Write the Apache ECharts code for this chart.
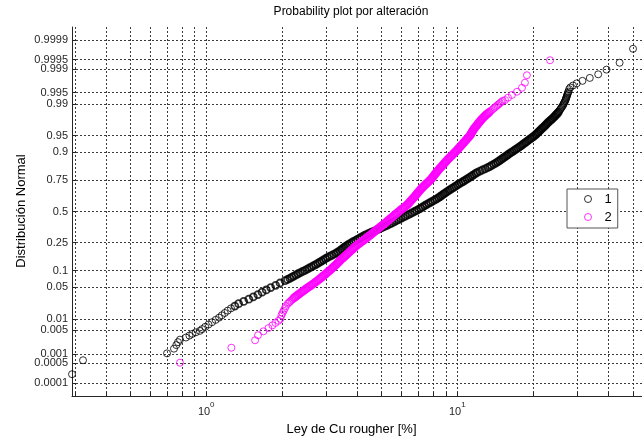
<!DOCTYPE html>
<html><head><meta charset="utf-8">
<script src="https://cdn.jsdelivr.net/npm/echarts@6/dist/echarts.min.js"></script>
<style>html,body{margin:0;padding:0;background:#fff}#c{width:642px;height:437px}</style>
</head><body><div id="c"></div>
<script>
const chartTitle = 'Probability plot por alteración';
const xName = 'Ley de Cu rougher [%]';
const yName = 'Distribución Normal';
const seriesNames = ['1', '2'];

// Series 1 (black): Cu grade [%] and plotting probability
const s1Pct = [0.292,0.323,0.698,0.744,0.760,0.772,0.786,0.830,0.857,0.881,0.909,0.943,0.963,
0.991,1.021,1.055,1.090,1.125,1.154,1.185,1.217,1.255,1.300,1.346,1.410,1.478,1.540,1.606,1.669,1.734,1.806,1.890,1.967,2.061,2.153,2.234,2.321,2.421,2.525,2.627,2.729,2.83,2.929,3.036,3.160,3.296,3.409,3.502,3.603,3.72,3.861,4.012,4.168,4.331,4.538,4.78,5.012,5.25,5.48,5.715,5.96,6.215,6.48,6.758,7.03,7.28,7.538,7.827,8.133,8.418,8.674,8.93,9.223,9.52,9.84,10.17,10.54,10.9,11.27,11.64,12.02,12.59,13.2,13.7,14.23,14.7,15.15,15.6,16.07,16.59,17.13,17.67,18.19,18.71,19.25,19.82,20.37,20.82,21.28,21.75,22.24,22.7,23.19,23.74,24.29,24.76,25.24,25.61,25.98,26.34,26.6,26.9,27.1,27.3,27.5,27.7,
27.9,28.2,28.9,29.9,31.5,33.7,36.4,39.3,44.3,50.1,
2.107,2.194,2.278,2.371,2.473,2.576,2.678,2.780,2.880,2.983,3.098,3.228,3.353,3.456,3.553,3.662,3.791,3.937,4.090,4.250,4.435,4.659,4.896,5.131,5.365,5.598,5.838,6.088,6.348,6.619,6.894,7.155,7.409,7.683,7.980,8.276,8.546,8.802,9.077,9.372,9.68,10.005,10.355,10.72,11.085,11.455,11.83,12.305,12.895,13.45,13.965,14.465,14.925,15.375,15.835,16.33,16.86,17.40,17.93,18.45,18.98,19.535,20.095,20.595,21.05,21.515,21.995,22.47,22.945,23.465,24.015,24.525,25.0,25.425,25.795,26.16,26.47,26.75,27.0,27.2,27.4,27.6];
const s1Prob = [0.00021,0.00063,0.00105,0.00147,0.00189,0.00231,0.00273,0.00315,0.00357,0.00399,0.00441,0.00483,0.00539,
0.00621,0.00714,0.0082,0.00939,0.0107,0.01222,0.0139,0.01578,0.0179,0.02018,0.0228,0.02559,0.0287,0.03216,0.0359,0.04006,0.0446,0.04947,0.0548,0.06057,0.0668,0.07353,0.0808,0.08851,0.0968,0.10565,0.1151,0.12507,0.1357,0.14686,0.1587,0.17106,0.1841,0.19766,0.2119,0.22663,0.2420,0.25785,0.2743,0.29116,0.3085,0.32636,0.3446,0.36317,0.3821,0.40129,0.4207,0.44038,0.4602,0.48006,0.5,0.51994,0.5398,0.55962,0.5793,0.59871,0.6179,0.63683,0.6554,0.67364,0.6915,0.70884,0.7257,0.74215,0.758,0.77337,0.7881,0.80234,0.8159,0.82894,0.8413,0.85314,0.8643,0.87493,0.8849,0.89435,0.9032,0.91149,0.9192,0.92647,0.9332,0.93943,0.9452,0.95053,0.9554,0.95994,0.9641,0.96784,0.9713,0.97441,0.9772,0.97982,0.9821,0.98422,0.9861,0.98778,0.9893,0.99061,0.9918,0.99286,0.99379,0.99461,0.99534,
0.99601,0.99643,0.99685,0.99727,0.99769,0.99811,0.99853,0.99895,0.99937,0.99979,
0.07017,0.07717,0.08466,0.09266,0.10123,0.11038,0.12009,0.13039,0.14128,0.15278,0.16488,0.17758,0.19088,0.20478,0.21927,0.23432,0.24993,0.26608,0.28273,0.29983,0.31743,0.33548,0.35389,0.37264,0.39170,0.41100,0.43054,0.45029,0.47013,0.49003,0.50997,0.52987,0.54971,0.56946,0.58901,0.60831,0.62737,0.64612,0.66452,0.68257,0.70017,0.71727,0.73393,0.75008,0.76569,0.78074,0.79522,0.80912,0.82242,0.83512,0.84722,0.85872,0.86962,0.87992,0.88963,0.89878,0.90735,0.91535,0.92284,0.92984,0.93632,0.94232,0.94787,0.95297,0.95767,0.96202,0.96597,0.96957,0.97286,0.97581,0.97851,0.98096,0.98316,0.98516,0.98694,0.98854,0.98996,0.99121,0.99233,0.99333,0.9942,0.99498];

// Series 2 (magenta)
const s2Pct = [0.786,1.259,1.565,1.608,1.690,1.769,1.835,1.886,1.939,1.974,
1.993,2.012,2.034,2.057,2.078,2.113,2.159,2.208,2.265,2.326,2.395,2.466,2.539,2.616,2.694,2.773,2.848,2.919,2.994,3.069,3.145,3.218,3.292,3.362,3.433,3.516,3.597,3.680,3.764,3.855,3.944,4.049,4.169,4.291,4.410,4.529,4.647,4.763,4.894,5.028,5.159,5.292,5.424,5.566,5.705,5.852,6.003,6.170,6.335,6.451,6.576,6.703,6.826,6.944,7.066,7.202,7.355,7.518,7.691,7.861,7.991,8.123,8.266,8.402,8.564,8.730,8.890,9.062,9.246,9.442,9.643,9.847,10.05,10.24,10.44,10.64,10.83,11.04,11.24,11.38,11.52,11.68,11.88,12.08,12.29,12.50,12.77,13.04,13.38,13.71,14.07,14.43,14.79,15.17,
15.49,15.92,16.51,17.29,18.09,18.59,18.93,23.4,
2.136,2.184,2.237,2.296,2.361,2.431,2.503,2.578,2.655,2.734,2.811,2.884,2.957,3.032,3.107,3.182,3.255,3.327,3.398,3.475,3.557,3.639,3.722,3.810,3.900,3.997,4.109,4.230,4.351,4.470,4.588,4.705,4.829,4.961,5.094,5.226,5.358,5.495,5.636,5.779,5.928,6.087,6.253,6.393,6.514,6.640,6.765,6.885,7.005,7.134,7.279,7.437,7.605,7.776,7.926,8.057,8.195,8.334,8.483,8.647,8.810,8.976,9.154,9.344,9.543,9.745,9.949,10.145,10.34,10.54,10.735,10.935,11.14,11.31,11.45,11.60,11.78,11.98,12.185,12.395,12.635,12.905,13.21,13.545,13.89,14.25,14.61,14.98];
const s2Prob = [0.000523,0.00157,0.00262,0.00366,0.0047,0.00575,0.0068,0.00784,0.00889,0.00993,
0.01222,0.0139,0.01578,0.0179,0.02018,0.0228,0.02559,0.0287,0.03216,0.0359,0.04006,0.0446,0.04947,0.0548,0.06057,0.0668,0.07353,0.0808,0.08851,0.0968,0.10565,0.1151,0.12507,0.1357,0.14686,0.1587,0.17106,0.1841,0.19766,0.2119,0.22663,0.2420,0.25785,0.2743,0.29116,0.3085,0.32636,0.3446,0.36317,0.3821,0.40129,0.4207,0.44038,0.4602,0.48006,0.5,0.51994,0.5398,0.55962,0.5793,0.59871,0.6179,0.63683,0.6554,0.67364,0.6915,0.70884,0.7257,0.74215,0.758,0.77337,0.7881,0.80234,0.8159,0.82894,0.8413,0.85314,0.8643,0.87493,0.8849,0.89435,0.9032,0.91149,0.9192,0.92647,0.9332,0.93943,0.9452,0.95053,0.9554,0.95994,0.9641,0.96784,0.9713,0.97441,0.9772,0.97982,0.9821,0.98422,0.9861,0.98778,0.9893,0.99061,0.9918,
0.99215,0.9932,0.99425,0.99529,0.99634,0.99738,0.99843,0.99948,
0.0242,0.02715,0.03043,0.03403,0.03798,0.04233,0.04704,0.05214,0.05769,0.06369,0.07017,0.07717,0.08466,0.09266,0.10123,0.11038,0.12009,0.13039,0.14128,0.15278,0.16488,0.17758,0.19088,0.20478,0.21927,0.23432,0.24993,0.26608,0.28273,0.29983,0.31743,0.33548,0.35389,0.37264,0.39170,0.41100,0.43054,0.45029,0.47013,0.49003,0.50997,0.52987,0.54971,0.56946,0.58901,0.60831,0.62737,0.64612,0.66452,0.68257,0.70017,0.71727,0.73393,0.75008,0.76569,0.78074,0.79522,0.80912,0.82242,0.83512,0.84722,0.85872,0.86962,0.87992,0.88963,0.89878,0.90735,0.91535,0.92284,0.92984,0.93632,0.94232,0.94787,0.95297,0.95767,0.96202,0.96597,0.96957,0.97286,0.97581,0.97851,0.98096,0.98316,0.98516,0.98694,0.98854,0.98996,0.99121];

// Axis ticks
const yTickProbs = [0.0001,0.0005,0.001,0.005,0.01,0.05,0.1,0.25,0.5,0.75,0.9,0.95,0.99,0.995,0.999,0.9995,0.9999];
const yTickLabels = ['0.0001','0.0005','0.001','0.005','0.01','0.05','0.1','0.25','0.5','0.75','0.9','0.95','0.99','0.995','0.999','0.9995','0.9999'];
const xTickPct = [0.3,0.4,0.5,0.6,0.7,0.8,0.9,1,2,3,4,5,6,7,8,9,10,20,30,40,50];
const xLabelPct = [1, 10];
const xMinPct = 0.292, xMaxPct = 54.4;
const zMin = -4, zMax = 4;

function norminv(p){
  const a=[-3.969683028665376e+01,2.209460984245205e+02,-2.759285104469687e+02,1.383577518672690e+02,-3.066479806614716e+01,2.506628277459239e+00];
  const b=[-5.447609879822406e+01,1.615858368580409e+02,-1.556989798598866e+02,6.680131188771972e+01,-1.328068155288572e+01];
  const c=[-7.784894002430293e-03,-3.223964580411365e-01,-2.400758277161838e+00,-2.549671743515370e+00,4.374664141464968e+00,2.938163982698783e+00];
  const d=[7.784695709041462e-03,3.224671290700398e-01,2.445134137142996e+00,3.754408661907416e+00];
  const plow=0.02425, phigh=1-plow; let q,r;
  if(p<plow){q=Math.sqrt(-2*Math.log(p));return (((((c[0]*q+c[1])*q+c[2])*q+c[3])*q+c[4])*q+c[5])/((((d[0]*q+d[1])*q+d[2])*q+d[3])*q+1);}
  if(p>phigh){q=Math.sqrt(-2*Math.log(1-p));return -(((((c[0]*q+c[1])*q+c[2])*q+c[3])*q+c[4])*q+c[5])/((((d[0]*q+d[1])*q+d[2])*q+d[3])*q+1);}
  q=p-0.5;r=q*q;return (((((a[0]*r+a[1])*r+a[2])*r+a[3])*r+a[4])*r+a[5])*q/(((((b[0]*r+b[1])*r+b[2])*r+b[3])*r+b[4])*r+1);
}

const yTickZ = yTickProbs.map(norminv);
const xTickLog = xTickPct.map(Math.log10);
const xLabelLog = xLabelPct.map(Math.log10);
const FONT = 'Liberation Sans, Arial, sans-serif';
const gridStyle = {type:[2,2], color:'#3c3c3c', width:1};
const axisCol = '#262626';
// where the markers pile up into a solid band, strokes are drawn heavier
const bandRange = [[0.02, 0.985], [0.03, 0.985]];

function buildData(pct, prob, k){
  return pct.map(function(v,i){
    const p = prob[i];
    const item = {value:[Math.log10(v), norminv(p)]};
    if (p >= bandRange[k][0] && p <= bandRange[k][1]) item.itemStyle = {borderWidth:1.8};
    return item;
  });
}

const chart = echarts.init(document.getElementById('c'), null, {renderer:'canvas'});
chart.setOption({
  animation:false,
  backgroundColor:'#fff',
  grid:{left:72, right:-4, top:27, bottom:41, containLabel:false},
  xAxis:{type:'value', min:Math.log10(xMinPct), max:Math.log10(xMaxPct),
    axisLine:{show:true, onZero:false, lineStyle:{color:axisCol}},
    axisTick:{show:true, inside:true, length:4, customValues:xTickLog, lineStyle:{color:axisCol}},
    axisLabel:{customValues:xLabelLog, margin:5, color:axisCol, fontFamily:FONT,
      formatter:function(v){return '{b|10}{s|'+Math.round(v)+'}';},
      rich:{b:{fontSize:11, fontFamily:FONT, color:axisCol, verticalAlign:'bottom', lineHeight:16},
            s:{fontSize:8, fontFamily:FONT, color:axisCol, verticalAlign:'top', lineHeight:8}}},
    splitLine:{show:true, lineStyle:gridStyle}},
  yAxis:{type:'value', min:zMin, max:zMax,
    axisLine:{show:true, onZero:false, lineStyle:{color:axisCol}},
    axisTick:{show:true, inside:true, length:4, customValues:yTickZ, lineStyle:{color:axisCol}},
    axisLabel:{customValues:yTickZ, margin:4, fontSize:11, color:axisCol, fontFamily:FONT,
      formatter:function(v){for(let i=0;i<yTickZ.length;i++){if(Math.abs(yTickZ[i]-v)<1e-6)return yTickLabels[i];}return '';}},
    splitLine:{show:true, lineStyle:gridStyle}},
  legend:{orient:'vertical', left:567, top:189, backgroundColor:'#fff', borderColor:'#555', borderWidth:1,
    padding:[3,6,4,17], itemWidth:7, itemHeight:7, itemGap:4,
    textStyle:{fontSize:13, color:'#000', fontFamily:FONT, padding:[0,0,0,8], lineHeight:14},
    data:[{name:seriesNames[0], icon:'circle', itemStyle:{color:'rgba(0,0,0,0)', borderColor:'#000', borderWidth:1}},
          {name:seriesNames[1], icon:'circle', itemStyle:{color:'rgba(0,0,0,0)', borderColor:'#ff00ff', borderWidth:1}}]},
  graphic:[
    {type:'text', x:351, y:12, style:{text:chartTitle, fontSize:12, fontFamily:FONT, fill:'#000', align:'center', verticalAlign:'middle'}},
    {type:'text', x:351.5, y:429, style:{text:xName, fontSize:13, fontFamily:FONT, fill:'#000', align:'center', verticalAlign:'middle'}},
    {type:'text', x:21, y:211, rotation:Math.PI/2, style:{text:yName, fontSize:13, fontFamily:FONT, fill:'#000', align:'center', verticalAlign:'middle'}}
  ],
  series:[
    {type:'scatter', name:seriesNames[0], clip:false, symbol:'circle', symbolSize:7,
     itemStyle:{color:'rgba(0,0,0,0)', borderColor:'#000', borderWidth:1},
     emphasis:{disabled:true},
     data:buildData(s1Pct, s1Prob, 0)},
    {type:'scatter', name:seriesNames[1], clip:false, symbol:'circle', symbolSize:7,
     itemStyle:{color:'rgba(0,0,0,0)', borderColor:'#ff00ff', borderWidth:1},
     emphasis:{disabled:true},
     data:buildData(s2Pct, s2Prob, 1)}
  ]
});
</script></body></html>
